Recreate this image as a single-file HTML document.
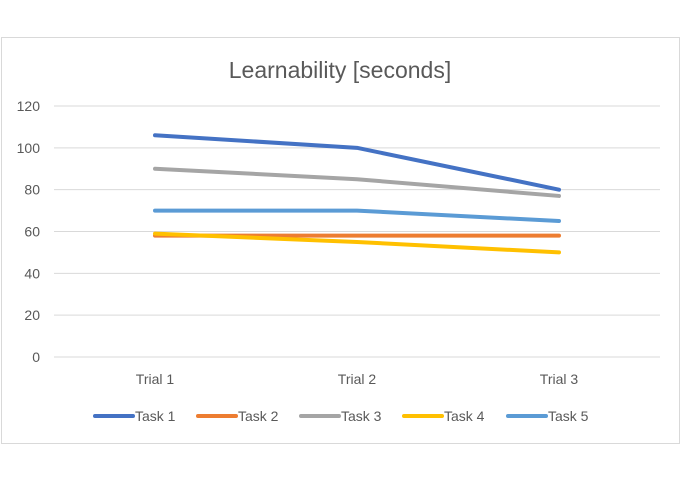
<!DOCTYPE html>
<html><head><meta charset="utf-8"><style>
body{margin:0;background:#fff;width:681px;height:481px;overflow:hidden;font-family:"Liberation Sans",sans-serif}
</style></head><body>
<svg width="681" height="481">
<rect x="1.5" y="37.5" width="678" height="406" fill="#fff" stroke="#d9d9d9"/>
<text x="340" y="78" text-anchor="middle" font-size="23" fill="#595959">Learnability [seconds]</text>
<g id="grid"></g><g id="series"></g><g id="legend"></g>
</svg>
<script>
const categories=["Trial 1","Trial 2","Trial 3"];
const yTicks=[0,20,40,60,80,100,120];
const seriesNames=["Task 1","Task 2","Task 3","Task 4","Task 5"];
const task1=[106,100,80];
const task2=[58,58,58];
const task3=[90,85,77];
const task4=[59,55,50];
const task5=[70,70,65];
const colors=["#4472c4","#ed7d31","#a5a5a5","#ffc000","#5b9bd5"];
const NS="http://www.w3.org/2000/svg";
const x0=54,x1=660,y0=357,y1=106;
function yS(v){return y0-(v/120)*(y0-y1);}
function xS(i){const w=(x1-x0)/categories.length;return x0+w*(i+0.5);}
function mk(t,a,p){const e=document.createElementNS(NS,t);for(const k in a)e.setAttribute(k,a[k]);p.appendChild(e);return e;}
const grid=document.getElementById('grid');
yTicks.forEach(v=>{
 const l=mk('line',{x1:x0,x2:x1,y1:yS(v),y2:yS(v),stroke:'#d9d9d9','stroke-width':1},grid);
 
 
 const t=mk('text',{x:40,y:yS(v)+5,'text-anchor':'end','font-size':14,fill:'#595959'},grid);
 t.textContent=v;
 
 
});
categories.forEach((c,i)=>{
 const t=mk('text',{x:xS(i),y:384,'text-anchor':'middle','font-size':14,fill:'#595959'},grid);
 t.textContent=c;
 
 
});
const all=[task1,task2,task3,task4,task5];
const sg=document.getElementById('series');
all.forEach((d,s)=>{
 const pts=d.map((v,i)=>xS(i)+','+yS(v)).join(' ');
 const p=mk('polyline',{points:pts,fill:'none',stroke:colors[s],'stroke-width':4,'stroke-linejoin':'round','stroke-linecap':'round'},sg);
 
 
});
const lg=document.getElementById('legend');
const lx=[94,197,300,403,507];
seriesNames.forEach((n,s)=>{
 const l=mk('line',{x1:lx[s]+1,x2:lx[s]+39,y1:416,y2:416,stroke:colors[s],'stroke-width':4,'stroke-linecap':'round'},lg);
 
 
 const t=mk('text',{x:lx[s]+41,y:421,'font-size':14,fill:'#595959'},lg);
 t.textContent=n;
 
 
});
</script>
</body></html>
